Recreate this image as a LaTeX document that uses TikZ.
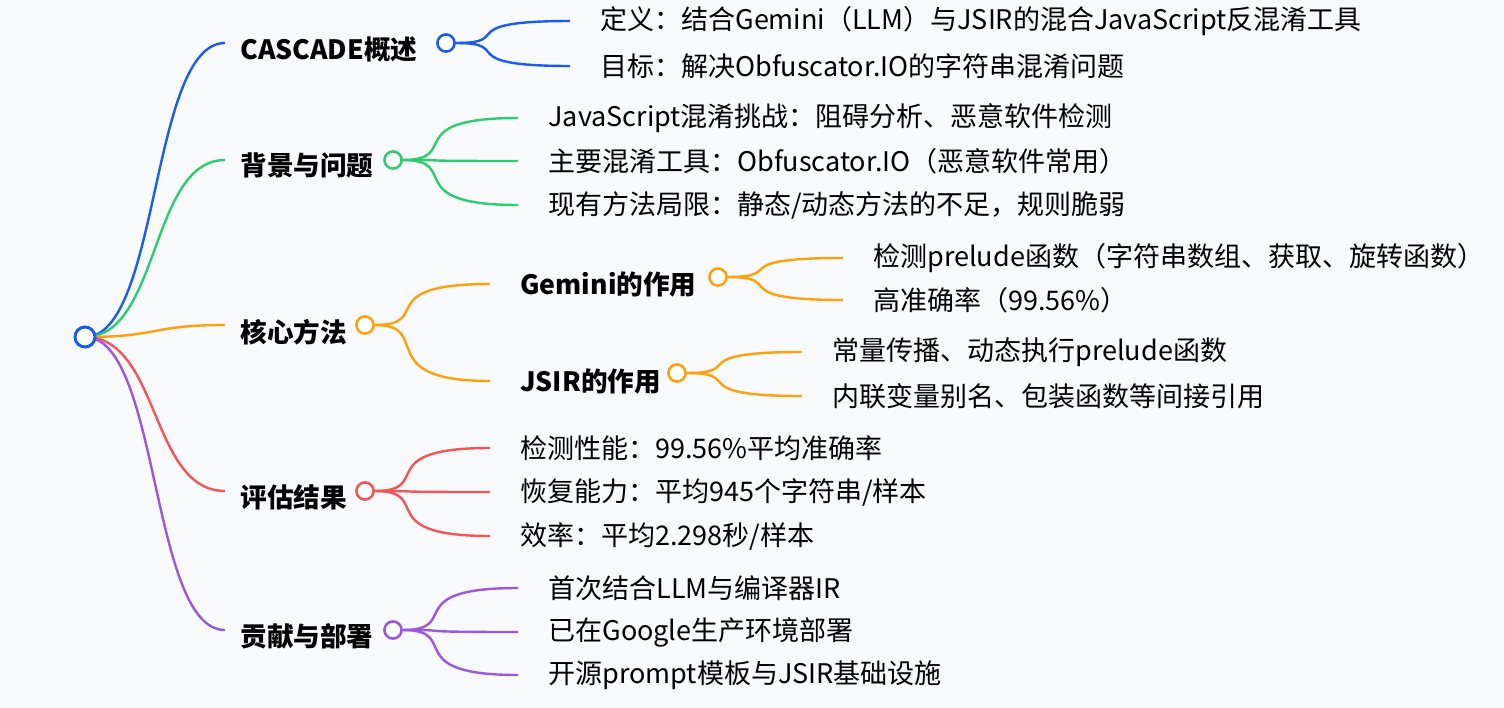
\documentclass[tikz,border=0pt]{standalone}
\usepackage{fontspec}
\setmainfont{Noto Sans CJK SC}
\begin{document}
\begin{tikzpicture}[x=0.5pt,y=-0.5pt,
  lbl/.style={anchor=west,inner sep=0,font=\fontsize{13.5}{15}\selectfont},
  blbl/.style={lbl,font=\fontsize{13.3}{15}\selectfont\bfseries},
  dot/.style={circle,line width=1.2pt,fill=white,minimum size=8.5pt,inner sep=0},
  ln/.style={line width=1.2pt}]
\definecolor{bg}{HTML}{F8F9FB}
\definecolor{cb}{HTML}{1A5CF0}
\definecolor{cg}{HTML}{2ECC71}
\definecolor{co}{HTML}{FF9F0A}
\definecolor{cr}{HTML}{F25555}
\definecolor{cp}{HTML}{9B55E0}
\fill[bg] (0,0) rectangle (1504,707);
\useasboundingbox (0,0) rectangle (1504,707);
% branch nodes
\node[blbl] (b1) at (240,49) {CASCADE概述};
\node[blbl] (b2) at (240,165) {背景与问题};
\node[blbl] (b3) at (240,332) {核心方法};
\node[blbl] (b4) at (240,497) {评估结果};
\node[blbl] (b5) at (240,636) {贡献与部署};
\node[blbl] (s1) at (520,284) {Gemini的作用};
\node[blbl] (s2) at (520,381) {JSIR的作用};
% leaves
\node[lbl] (l11) at (600,21) {定义：结合Gemini（LLM）与JSIR的混合JavaScript反混淆工具};
\node[lbl] (l12) at (600,66) {目标：解决Obfuscator.IO的字符串混淆问题};
\node[lbl] (l21) at (548,118) {JavaScript混淆挑战：阻碍分析、恶意软件检测};
\node[lbl] (l22) at (548,161) {主要混淆工具：Obfuscator.IO（恶意软件常用）};
\node[lbl] (l23) at (548,205) {现有方法局限：静态/动态方法的不足，规则脆弱};
\node[lbl] (l31) at (873,258) {检测prelude函数（字符串数组、获取、旋转函数）};
\node[lbl] (l32) at (873,300) {高准确率（99.56\%）};
\node[lbl] (l33) at (832,352) {常量传播、动态执行prelude函数};
\node[lbl] (l34) at (832,396) {内联变量别名、包装函数等间接引用};
\node[lbl] (l41) at (520,448) {检测性能：99.56\%平均准确率};
\node[lbl] (l42) at (520,492) {恢复能力：平均945个字符串/样本};
\node[lbl] (l43) at (520,536) {效率：平均2.298秒/样本};
\node[lbl] (l51) at (548,588) {首次结合LLM与编译器IR};
\node[lbl] (l52) at (548,632) {已在Google生产环境部署};
\node[lbl] (l53) at (548,675) {开源prompt模板与JSIR基础设施};
% root
\coordinate (r) at (85,337);
\foreach \yy/\c in {43/cb,160/cg,325/co,491/cr,630/cp}
  \draw[ln,\c] (r) .. controls (160,337) and (150,\yy) .. (225,\yy);
% branch circles
\node[dot,draw=cb] (c1) at (446,43) {};
\node[dot,draw=cg] (c2) at (393,160) {};
\node[dot,draw=co] (c3) at (365,325) {};
\node[dot,draw=cr] (c4) at (365,491) {};
\node[dot,draw=cp] (c5) at (393,630) {};
\node[dot,draw=co] (c31) at (718,277) {};
\node[dot,draw=co] (c32) at (677,373) {};
\foreach \c/\a/\b in {cb/c1/l11,cb/c1/l12,cg/c2/l21,cg/c2/l22,cg/c2/l23,co/c3/s1,co/c3/s2,co/c31/l31,co/c31/l32,co/c32/l33,co/c32/l34,cr/c4/l41,cr/c4/l42,cr/c4/l43,cp/c5/l51,cp/c5/l52,cp/c5/l53}
  \draw[ln,\c] (\a.east) .. controls +(60,0) and ([xshift=-75]\b.west) .. ([xshift=-15]\b.west);
\node[dot,draw=cb,line width=1.5pt,minimum size=10pt] (root) at (r) {};
\foreach \n/\c in {c1/cb,c2/cg,c3/co,c4/cr,c5/cp,c31/co,c32/co}
  \node[dot,draw=\c] at (\n) {};
\end{tikzpicture}
\end{document}
